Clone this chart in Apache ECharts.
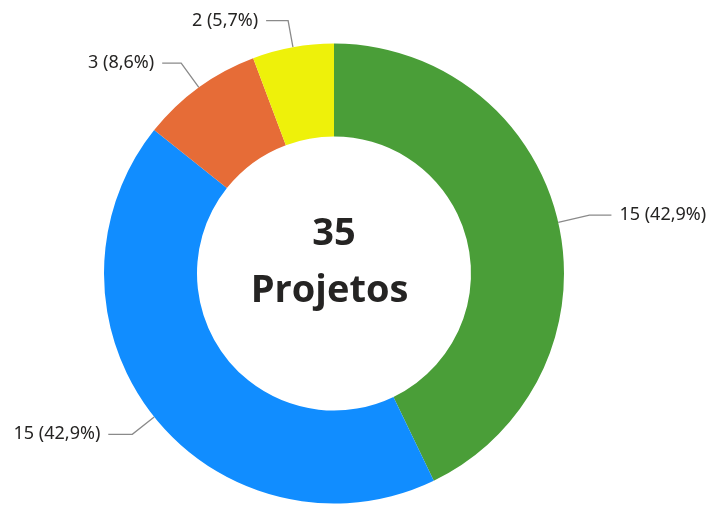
<!DOCTYPE html>
<html>
<head>
<meta charset="utf-8">
<script src="https://cdn.jsdelivr.net/npm/echarts@6/dist/echarts.min.js"></script>
<style>html,body{margin:0;padding:0;background:#fff}#c{width:710px;height:506px}</style>
</head>
<body>
<div id="c"></div>
<script>
const categories = ['A', 'B', 'C', 'D'];
const values = [15, 15, 3, 2];
const colors = ['#4A9E38', '#118DFF', '#E66C37', '#EEF10A'];
const centerTitle = ['35', 'Projetos'];
// label line lengths per slice [first segment, second segment]
const lineLens = [[32, 22], [28, 24], [30, 19], [27, 22]];

const total = values.reduce((a, b) => a + b, 0);
const chart = echarts.init(document.getElementById('c'));
chart.setOption({
  animation: false,
  series: [{
    type: 'pie',
    center: [334, 273.5],
    radius: [137, 230],
    startAngle: 90,
    clockwise: true,
    avoidLabelOverlap: false,
    data: categories.map((c, i) => ({
      name: c, value: values[i], itemStyle: { color: colors[i] },
      labelLine: { length: lineLens[i][0], length2: lineLens[i][1] }
    })),
    label: {
      show: true,
      fontFamily: 'Noto Sans',
      fontSize: 18,
      color: '#252423',
      distanceToLabelLine: 8,
      formatter: p => p.value + ' (' + (p.value / total * 100).toFixed(1).replace('.', ',') + '%)'
    },
    labelLine: {
      show: true,
      lineStyle: { color: '#8a8a8a', width: 1.3 }
    },
    emphasis: { disabled: true }
  }, {
    type: 'pie',
    center: [334, 273.5],
    radius: [0, 0],
    silent: true,
    data: [{ value: 1, name: 'center' }],
    label: {
      show: true,
      position: 'center',
      padding: [0, 0, 21, 0],
      formatter: '{a|' + centerTitle[0] + '}\n{b|' + centerTitle[1] + '}',
      rich: {
        a: { fontFamily: 'Open Sans', fontWeight: 'bold', fontSize: 38, color: '#252423', lineHeight: 57 },
        b: { fontFamily: 'Open Sans', fontWeight: 'bold', fontSize: 38, color: '#252423', lineHeight: 57, padding: [0, 9, 0, 0] }
      }
    },
    labelLine: { show: false }
  }]
});
</script>
</body>
</html>
